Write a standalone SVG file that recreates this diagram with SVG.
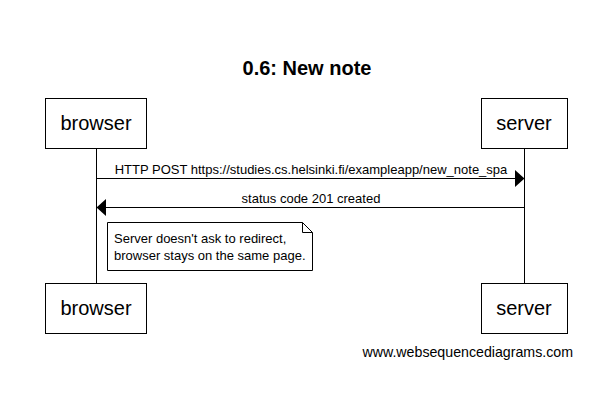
<svg xmlns="http://www.w3.org/2000/svg" width="613" height="410" viewBox="0 0 613 410">
<defs>
<style>
.box{fill:#fff;stroke:#000;stroke-width:1}
.life{stroke:#000;stroke-width:1}
.actor{font-family:"Liberation Sans",Arial,sans-serif;font-size:20px;text-anchor:middle;fill:#000}
.msg{font-family:"Liberation Sans",Arial,sans-serif;font-size:13px;text-anchor:middle;fill:#000}
.note{font-family:"Liberation Sans",Arial,sans-serif;font-size:13px;fill:#000}
.line{stroke:#000;stroke-width:1;fill:none}
</style>
</defs>
<rect width="613" height="410" fill="#fff"/>
<text x="307" y="75" font-family="'Liberation Sans',Arial,sans-serif" font-size="20" font-weight="bold" text-anchor="middle">0.6: New note</text>
<g id="lifelines">
<line class="life" x1="96.5" y1="148" x2="96.5" y2="283"/>
<line class="life" x1="524.5" y1="148" x2="524.5" y2="283"/>
</g>
<g id="browser-top"><rect class="box" x="45.5" y="98.5" width="101" height="50"/><text class="actor" x="96" y="130">browser</text></g>
<g id="server-top"><rect class="box" x="481.5" y="98.5" width="86" height="50"/><text class="actor" x="524" y="130">server</text></g>
<g id="browser-bottom"><rect class="box" x="45.5" y="283.5" width="101" height="50"/><text class="actor" x="96" y="315">browser</text></g>
<g id="server-bottom"><rect class="box" x="481.5" y="283.5" width="86" height="50"/><text class="actor" x="524" y="315">server</text></g>
<g id="connectors">
<line class="line" x1="96.5" y1="178.5" x2="516" y2="178.5"/>
<polygon points="524.5,178.5 515,170 515,187" fill="#000"/>
<text class="msg" x="311" y="174">HTTP POST https://studies.cs.helsinki.fi/exampleapp/new_note_spa</text>
<line class="line" x1="524.5" y1="207.5" x2="105" y2="207.5"/>
<polygon points="96.5,207.5 106,199 106,216" fill="#000"/>
<text class="msg" x="311" y="203">status code 201 created</text>
</g>
<g id="note">
<path class="box" d="M107.5,222.5 H302.5 L312.5,232.5 V270.5 H107.5 Z"/>
<path class="line" d="M302.5,222.5 V232.5 H312.5"/>
<text class="note" x="114" y="243">Server doesn't ask to redirect,</text>
<text class="note" x="114" y="260">browser stays on the same page.</text>
</g>
<text x="573" y="357" font-family="'Liberation Sans',Arial,sans-serif" font-size="14.2" text-anchor="end">www.websequencediagrams.com</text>
</svg>
